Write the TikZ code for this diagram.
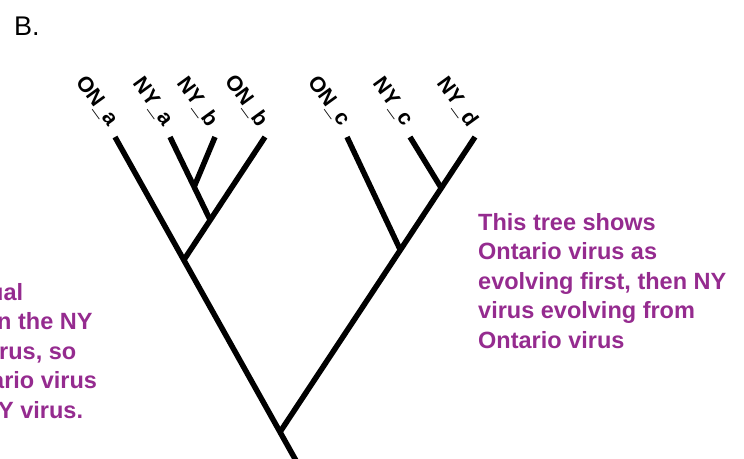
\documentclass[tikz,border=0pt]{standalone}
\usepackage{fontspec}
\setmainfont{Liberation Sans}
\usepackage{tikz}
\usetikzlibrary{calc}
\definecolor{notec}{HTML}{952B8F}
\tikzset{
  br/.style={line width=5.5pt,black},
  lbl/.style={font=\fontsize{21.5}{24}\selectfont\bfseries,rotate=-54,anchor=east,inner sep=0pt},
  note/.style={font=\fontsize{23.5}{29.5}\selectfont\bfseries,text=notec,align=left,inner sep=0pt,anchor=north west}
}

\begin{document}
\begin{tikzpicture}[x=1pt,y=-1pt]
\clip (0,0) rectangle (744,458);
\node[anchor=base west,inner sep=0pt,font=\fontsize{27}{32}\selectfont] (tag) at (14,35) {B.};
% leaves
\coordinate (ONa) at (115,137);
\coordinate (NYa) at (170,137);
\coordinate (NYb) at (215,137);
\coordinate (ONb) at (265,137);
\coordinate (ONc) at (347,137);
\coordinate (NYc) at (410,137);
\coordinate (NYd) at (475,137);
% splits
\coordinate (root) at (280,432);
\coordinate (base) at ($(ONa)!1.13!(root)$);
\coordinate (nA) at ($(ONa)!0.417!(root)$);
\coordinate (nB) at ($(ONb)!0.675!(nA)$);
\coordinate (nC) at ($(NYa)!0.6!(nB)$);
\coordinate (nD) at ($(NYd)!0.383!(root)$);
\coordinate (nE) at ($(NYd)!0.173!(root)$);
\draw[br] (ONa) -- (base);
\draw[br] (NYd) -- (root);
\draw[br] (ONb) -- (nA);
\draw[br] (NYa) -- (nB);
\draw[br] (NYb) -- (nC);
\draw[br] (ONc) -- (nD);
\draw[br] (NYc) -- (nE);
\foreach \t/\s in {ONa/ON\_a,NYa/NY\_a,NYb/NY\_b,ONb/ON\_b,ONc/ON\_c,NYc/NY\_c,NYd/NY\_d}
  \node[lbl] (l\t) at ([shift={(-1,-13)}]\t) {\s};
\node[note] (lnote) at (0,283) {\hspace*{-11pt}ual\\ \hspace*{-3pt}n the NY\\ \hspace*{-1pt}rus, so\\ \hspace*{-9pt}ario virus\\ \hspace*{-2pt}Y virus.};
\node[note] (rnote) at (478,213) {This tree shows\\ Ontario virus as\\ evolving first, then NY\\ virus evolving from\\ Ontario virus};
\end{tikzpicture}
\end{document}
